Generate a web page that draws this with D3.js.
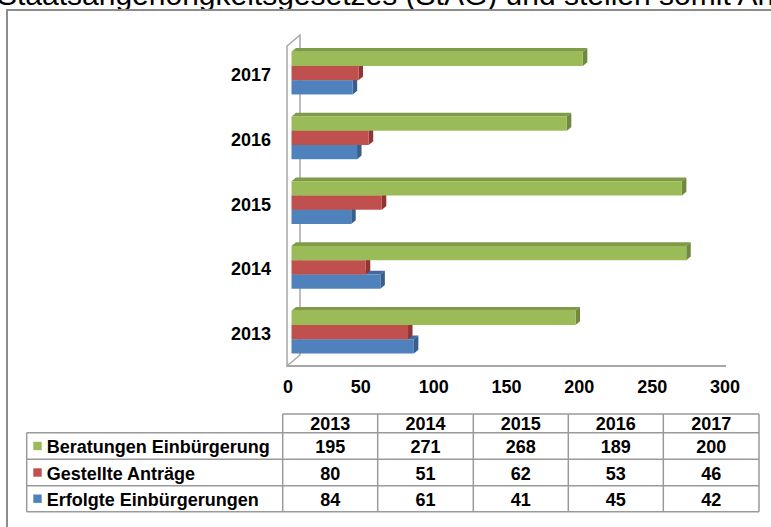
<!DOCTYPE html>
<html><head><meta charset="utf-8">
<script src="https://cdn.jsdelivr.net/npm/d3@7"></script>
<style>
html,body{margin:0;padding:0;background:#fff;overflow:hidden;}
svg{display:block;font-family:"Liberation Sans",Arial,sans-serif;}
</style></head>
<body>
<svg id="chart" width="771" height="527"></svg>
<script>
const years = ["2013","2014","2015","2016","2017"];
const seriesNames = ["Beratungen Einbürgerung","Gestellte Anträge","Erfolgte Einbürgerungen"];
const beratungen = [195,271,268,189,200];
const antraege = [80,51,62,53,46];
const einbuergerungen = [84,61,41,45,42];
const xTicks = [0,50,100,150,200,250,300];
const titleText = "Staatsangehörigkeitsgesetzes (StAG) und stellen somit Anträge";

const seriesValues = [beratungen, antraege, einbuergerungen];
const colors = ["#9BBB59","#C0504D","#4F81BD"];
const sideColors = ["#71893F","#8E3633","#385E8C"];
const topColors = ["#7E9B48","#A5403D","#41699C"];

const svg = d3.select("#chart");

// clipped title text above the frame
svg.append("text").attr("x",-3).attr("y",4.5)
  .attr("font-size",30).attr("fill","#000").text(titleText);

// outer frame
svg.append("rect").attr("x",7).attr("y",10).attr("width",800).attr("height",560)
  .attr("fill","#fff").attr("stroke","#8c8c8c").attr("stroke-width",2);

const x = d3.scaleLinear().domain([0,300]).range([288,725]);
const y = d3.scaleBand().domain(years.slice().reverse()).range([40.7,364.5])
  .paddingInner(0.34).paddingOuter(0.17);
const ys = d3.scaleBand().domain(seriesNames).range([0,y.bandwidth()]);

// wall + floor
const wallFront = 287, wallBackDx = 13, wallBackDy = -11, floorY = 366, wallTop = 46;
svg.append("path")
  .attr("d",`M${wallFront},${floorY}L${wallFront},${wallTop}L${wallFront+wallBackDx},${wallTop+wallBackDy}L${wallFront+wallBackDx},${floorY+wallBackDy}Z`)
  .attr("fill","#fff").attr("stroke","#a6a6a6").attr("stroke-width",1.5);
svg.append("line").attr("x1",wallFront).attr("x2",726).attr("y1",floorY).attr("y2",floorY)
  .attr("stroke","#a6a6a6").attr("stroke-width",2);

// bars
const ox = 3.5, dx = 4.5, dy = -3.8;
const barsG = svg.append("g");
years.forEach((yr, i) => {
  [2,1,0].forEach(s => {
    const v = seriesValues[s][i];
    const x0 = x(0) + ox, x1 = x(v) + ox;
    const y0 = y(yr) + ys(seriesNames[s]);
    const h = ys.bandwidth();
    barsG.append("path")
      .attr("d",`M${x0},${y0}L${x0+dx},${y0+dy}L${x1+dx},${y0+dy}L${x1},${y0}Z`)
      .attr("fill",topColors[s]);
    barsG.append("path")
      .attr("d",`M${x1},${y0}L${x1+dx},${y0+dy}L${x1+dx},${y0+h+dy}L${x1},${y0+h}Z`)
      .attr("fill",sideColors[s]);
    barsG.append("rect").attr("x",x0).attr("y",y0).attr("width",x1-x0).attr("height",h)
      .attr("fill",colors[s]);
  });
});

// category labels
svg.append("g").selectAll("text").data(years).join("text")
  .attr("x",271).attr("y",d => y(d)+y.bandwidth()/2+2)
  .attr("text-anchor","end").attr("dominant-baseline","central")
  .attr("font-size",18).attr("font-weight","bold").attr("fill","#000")
  .text(d => d);

// x tick labels
svg.append("g").selectAll("text").data(xTicks).join("text")
  .attr("x",d => x(d)).attr("y",387)
  .attr("text-anchor","middle").attr("dominant-baseline","central")
  .attr("font-size",18).attr("font-weight","bold").attr("fill","#000")
  .text(d => d);

// data table
const colEdges = [282.7,377.7,473.3,568.3,663.3,759];
const legendLeft = 26.7;
const rowEdges = [414,432.7,459.3,485.7,511.7];
const tbl = svg.append("g");
const lineStyle = sel => sel.attr("stroke","#9a9a9a").attr("stroke-width",1.5).attr("fill","none");
tbl.append("line").attr("x1",colEdges[0]).attr("x2",colEdges[5]).attr("y1",rowEdges[0]).attr("y2",rowEdges[0]).call(lineStyle);
rowEdges.slice(1).forEach(ry => {
  tbl.append("line").attr("x1",legendLeft).attr("x2",colEdges[5]).attr("y1",ry).attr("y2",ry).call(lineStyle);
});
colEdges.forEach(cx => {
  tbl.append("line").attr("x1",cx).attr("x2",cx).attr("y1",rowEdges[0]).attr("y2",rowEdges[4]).call(lineStyle);
});
tbl.append("line").attr("x1",legendLeft).attr("x2",legendLeft).attr("y1",rowEdges[1]).attr("y2",rowEdges[4]).call(lineStyle);

const txt = sel => sel.attr("font-size",18).attr("font-weight","bold").attr("fill","#000").attr("dominant-baseline","central");
years.forEach((yr,i) => {
  const cx = (colEdges[i]+colEdges[i+1])/2;
  tbl.append("text").attr("x",cx).attr("y",(rowEdges[0]+rowEdges[1])/2+1).attr("text-anchor","middle").call(txt).text(yr);
  seriesNames.forEach((sn,s) => {
    tbl.append("text").attr("x",cx).attr("y",(rowEdges[s+1]+rowEdges[s+2])/2+1).attr("text-anchor","middle").call(txt).text(seriesValues[s][i]);
  });
});
seriesNames.forEach((sn,s) => {
  const cy = (rowEdges[s+1]+rowEdges[s+2])/2;
  tbl.append("rect").attr("x",33.3).attr("y",cy-4.2).attr("width",8.4).attr("height",8.4).attr("fill",colors[s]);
  tbl.append("text").attr("x",46.7).attr("y",cy+1).call(txt).text(sn);
});
</script>
</body></html>
